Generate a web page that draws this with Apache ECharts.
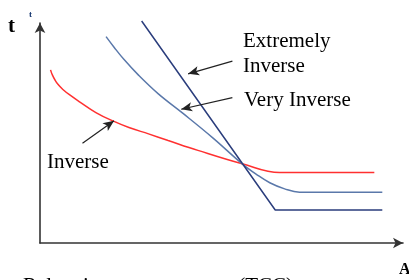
<!DOCTYPE html>
<html>
<head>
<meta charset="utf-8">
<title>TCC</title>
<script src="https://cdn.jsdelivr.net/npm/echarts@6/dist/echarts.min.js"></script>
<style>
  html, body { margin: 0; padding: 0; background: #fff; }
  #chart { width: 409px; height: 280px; }
</style>
</head>
<body>
<div id="chart"></div>
<script>
// current (x) and time (y), both on a 0-100 scale
var invCurrent = [2.9, 3.4, 4.1, 5.0, 6.3, 8.2, 10.9, 15.4, 19.9, 24.5, 29.9, 35.3, 43.5, 55.7, 66.0, 68.0, 92.1];
var invTime    = [78.7, 76.4, 74.2, 72.0, 69.8, 67.3, 64.2, 59.3, 55.6, 52.5, 49.6, 46.6, 42.1, 36.0, 32.0, 32.0, 32.0];

var veryCurrent = [18.2, 20.4, 23.1, 27.2, 32.6, 39.4, 47.6, 55.7, 59.8, 63.3, 67.4, 71.5, 74.0, 94.3];
var veryTime    = [93.8, 89.0, 83.5, 76.2, 67.8, 58.9, 47.8, 36.0, 31.0, 27.4, 24.6, 23.1, 23.1, 23.1];

var extCurrent = [28.0, 64.8, 94.3];
var extTime    = [100.9, 15.0, 15.0];

// annotation arrows: [fromX, fromY, toX, toY]
var arrowExt  = [53.0, 82.7, 40.8, 76.9];
var arrowVery = [53.0, 66.1, 38.9, 60.8];
var arrowInv  = [11.7, 45.3, 20.4, 55.6];

function pairs(xs, ys) {
  return xs.map(function (x, i) { return [x, ys[i]]; });
}

function arrow(a) {
  return {
    silent: true,
    symbol: ['none', 'arrow'],
    symbolSize: [7, 11],
    label: { show: false },
    lineStyle: { color: '#222', width: 1.2, type: 'solid' },
    emphasis: { disabled: true },
    data: [[{ coord: [a[0], a[1]] }, { coord: [a[2], a[3]] }]]
  };
}

var serif = '"Liberation Serif", "DejaVu Serif", serif';

var myChart = echarts.init(document.getElementById('chart'));
myChart.setOption({
  animation: false,
  grid: { left: 40, right: 6, top: 23, bottom: 37 },
  xAxis: {
    type: 'value', min: 0, max: 100,
    axisLine: { show: true, lineStyle: { color: '#333', width: 1.6 }, symbol: ['none', 'arrow'], symbolSize: [8, 10] },
    axisTick: { show: false }, axisLabel: { show: false }, splitLine: { show: false }
  },
  yAxis: {
    type: 'value', min: 0, max: 100,
    axisLine: { show: true, lineStyle: { color: '#333', width: 1.6 }, symbol: ['none', 'arrow'], symbolSize: [8, 10] },
    axisTick: { show: false }, axisLabel: { show: false }, splitLine: { show: false }
  },
  series: [
    {
      name: 'Inverse', type: 'line', data: pairs(invCurrent, invTime),
      smooth: 0.4, showSymbol: false, clip: false,
      lineStyle: { color: '#ff3030', width: 1.5 },
      markLine: arrow(arrowInv)
    },
    {
      name: 'Very Inverse', type: 'line', data: pairs(veryCurrent, veryTime),
      smooth: 0.4, showSymbol: false, clip: false,
      lineStyle: { color: '#5a78aa', width: 1.5 },
      markLine: arrow(arrowVery)
    },
    {
      name: 'Extremely Inverse', type: 'line', data: pairs(extCurrent, extTime),
      showSymbol: false, clip: false,
      lineStyle: { color: '#2a3d7c', width: 1.5 },
      markLine: arrow(arrowExt)
    }
  ],
  graphic: [
    { type: 'text', left: 243, top: 31, style: { text: 'Extremely', font: '21px ' + serif, fill: '#000' } },
    { type: 'text', left: 243, top: 56, style: { text: 'Inverse', font: '21px ' + serif, fill: '#000' } },
    { type: 'text', left: 244, top: 90, style: { text: 'Very Inverse', font: '21px ' + serif, fill: '#000' } },
    { type: 'text', left: 47, top: 152, style: { text: 'Inverse', font: '21px ' + serif, fill: '#000' } },
    { type: 'text', left: 8, top: 16, style: { text: 't', font: 'bold 21px ' + serif, fill: '#000' } },
    { type: 'text', left: 29, top: 10, style: { text: 't', font: 'bold 9px ' + serif, fill: '#1c3b73' } },
    { type: 'text', left: 399, top: 262, style: { text: 'A', font: 'bold 16px ' + serif, fill: '#000' } },
    { type: 'text', right: 116, top: 276, style: { text: 'Relay time-current curve (TCC)', font: '21px ' + serif, fill: '#000' } }
  ]
});
</script>
</body>
</html>
